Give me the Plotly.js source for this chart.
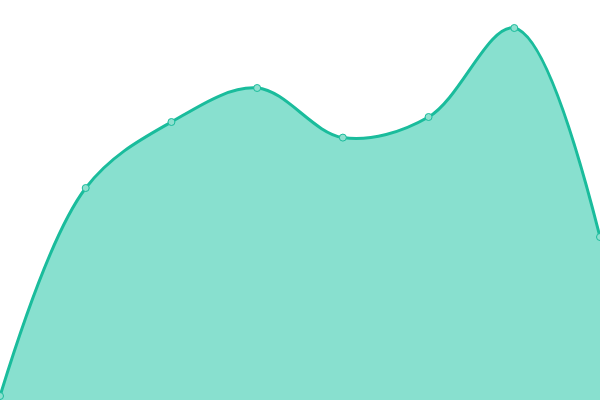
<!DOCTYPE html>
<html>
<head>
<meta charset="utf-8">
<script src="https://cdn.plot.ly/plotly-3.0.1.min.js"></script>
<style>
  html, body { margin: 0; padding: 0; background: #fff; }
  #plot { width: 600px; height: 400px; }
</style>
</head>
<body>
<div id="plot"></div>
<script>
// values (y scale 0..100)
const xIdx = [0, 1, 2, 3, 4, 5, 6, 7];
const yVals = [1, 53, 69.5, 78, 65.6, 70.75, 93, 40.75];

const areaTrace = {
  x: xIdx,
  y: yVals,
  type: 'scatter',
  mode: 'lines+markers',
  fill: 'tozeroy',
  fillcolor: '#88e0cf',
  line: { color: '#1abc9c', width: 3, shape: 'spline', smoothing: 1 },
  marker: { size: 7, color: '#8ee0cf', line: { color: '#1abc9c', width: 1 } },
  cliponaxis: false,
  hoverinfo: 'none'
};

const layout = {
  width: 600,
  height: 400,
  margin: { l: 0, r: 0, t: 0, b: 0 },
  showlegend: false,
  xaxis: { range: [0, 7], visible: false, fixedrange: true },
  yaxis: { range: [0, 100], visible: false, fixedrange: true },
  plot_bgcolor: '#fff',
  paper_bgcolor: '#fff'
};

Plotly.newPlot(document.getElementById('plot'), [areaTrace], layout, { displayModeBar: false, staticPlot: true });
</script>
</body>
</html>
